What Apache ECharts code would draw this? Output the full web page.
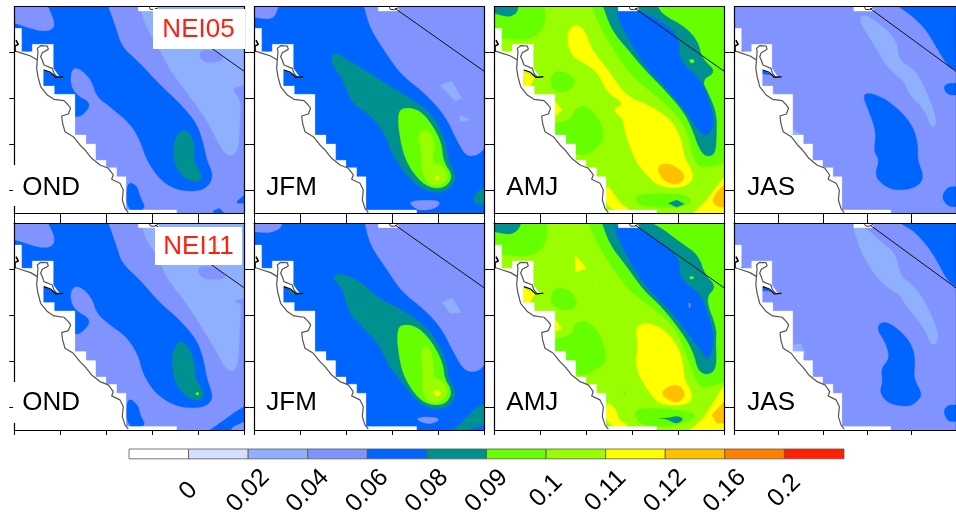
<!DOCTYPE html>
<html><head><meta charset="utf-8">
<style>html,body{margin:0;padding:0;background:#fff;overflow:hidden}#c{width:956px;height:519px}</style>
<script src="https://cdn.jsdelivr.net/npm/echarts@6/dist/echarts.min.js"></script></head>
<body><div id="c"></div>
<script>
// Colour-bar classes
const levelColors=['#ffffff','#d5e0ff','#8fb0ff','#8093ff','#0064ff','#009090','#66ff00','#99ff00','#ffff00','#ffc000','#ff8000','#ff2000'];
const levelLabels=['0','0.02','0.04','0.06','0.08','0.09','0.1','0.11','0.12','0.16','0.2'];
// Map-grid units: x 0..690, y 0..620 (north at top)
const FULL=[[0,0],[690,0],[690,620],[0,620]];
const landMask=[[0,65],[22,65],[22,135],[54,135],[54,113],[117,113],[117,185],[135,210],[87,188],[87,238],[120,238],[120,263],[182,263],[182,385],[215,385],[215,412],[244,412],[244,461],[275,461],[275,483],[307,483],[307,510],[335,510],[335,610],[487,610],[487,620],[0,620]];
const northNotch=[[372,0],[372,13],[432,13],[432,0]];
const coastMain=[[0,132],[24,140],[49,148],[69,160],[67,185],[71,210],[79,240],[99,265],[119,278],[149,282],[162,295],[169,305],[162,322],[142,328],[145,350],[152,375],[177,390],[197,415],[212,430],[232,455],[257,475],[282,485],[297,505],[292,518],[317,530],[327,550],[324,580],[332,605],[342,618]];
const coastBay=[[69,160],[71,135],[69,125],[79,117],[99,118],[102,128],[84,138],[79,150],[84,160],[89,175],[114,185],[119,200],[129,212],[147,210]];
const coastDelta=[[89,190],[109,197],[124,212],[147,210]];
const coastHead=[[5,100],[12,113],[2,118],[2,135]];
const coastNorth=[[405,0],[408,8],[420,9],[432,3]];
const stateLine=[[422,5],[690,194]];

const ond05=[[3,FULL],
[2,[[377,0],[387,40],[417,100],[447,150],[467,190],[527,270],[577,340],[607,400],[637,450],[672,440],[677,340],[680,280],[650,245],[690,235],[690,0]]],
[3,[[557,130],[597,130],[637,160],[577,170],[557,155]]],
[4,[[0,50],[47,65],[82,75],[117,70],[122,45],[102,0],[282,0],[307,70],[322,120],[377,170],[437,235],[497,290],[547,350],[567,410],[577,460],[597,505],[582,540],[547,555],[487,550],[437,520],[397,460],[377,400],[347,350],[287,300],[247,270],[232,220],[197,185],[172,185],[167,230],[185,265],[232,290],[207,325],[182,332],[0,332]]],
[5,[[492,375],[522,370],[542,420],[537,465],[567,510],[547,530],[502,510],[477,460],[479,410]]],
[4,[[337,525],[367,535],[377,570],[397,610],[337,615]]],
[4,[[667,585],[690,565],[690,590],[670,590]]],
[4,[[597,612],[615,605],[630,620],[597,620]]]];

const jfm05=[[4,FULL],
[3,[[0,0],[72,0],[62,30],[42,38],[0,32]]],
[3,[[330,0],[347,65],[402,150],[442,205],[512,260],[572,325],[612,410],[637,450],[672,445],[690,425],[690,0]]],
[2,[[557,235],[592,223],[622,275],[602,283]]],
[2,[[617,325],[647,340],[617,345]]],
[5,[[240,135],[272,155],[332,190],[392,230],[462,270],[532,320],[562,375],[577,420],[582,460],[607,510],[592,540],[562,558],[517,555],[467,520],[417,450],[392,380],[342,320],[292,290],[267,220],[227,165]]],
[6,[[429,312],[462,302],[502,315],[537,360],[562,410],[567,465],[594,505],[582,535],[547,548],[502,530],[457,470],[437,400]]],
[7,[[489,380],[522,365],[544,410],[532,465],[562,475],[585,510],[562,535],[527,538],[502,500],[502,440]]],
[8,[[543,510],[554,508],[554,518],[544,518]]],
[3,[[462,585],[512,580],[560,583],[547,605],[502,612],[482,605]]],
[5,[[690,545],[667,555],[655,580],[667,593],[690,592]]]];

const amj05=[[7,FULL],
[6,[[0,0],[150,0],[154,40],[137,80],[97,100],[32,95],[0,95]]],
[5,[[0,0],[72,0],[67,20],[42,32],[0,20]]],
[6,[[167,220],[182,192],[222,198],[247,230],[212,260],[177,250]]],
[6,[[170,350],[232,340],[242,305],[272,295],[312,330],[332,390],[312,420],[272,448],[240,440],[170,420]]],
[6,[[292,0],[322,70],[372,150],[412,210],[502,280],[562,340],[587,400],[597,460],[622,485],[667,475],[690,470],[690,0]]],
[8,[[242,50],[272,70],[292,130],[342,190],[382,250],[412,275],[472,300],[532,340],[562,400],[569,450],[592,490],[597,520],[562,545],[492,540],[452,500],[422,460],[392,380],[387,335],[352,310],[392,290],[340,260],[312,200],[272,170],[227,145],[217,80]]],
[9,[[487,477],[527,468],[577,505],[552,538],[502,520]]],
[8,[[90,195],[122,212],[107,238],[90,238]]],
[8,[[182,285],[204,310],[184,327]]],
[8,[[335,530],[357,560],[382,595],[412,610],[335,610]]],
[6,[[417,570],[462,560],[562,562],[597,580],[562,605],[437,600]]],
[5,[[522,590],[547,580],[570,592],[547,602]]],
[8,[[597,620],[632,585],[690,510],[690,620]]],
[9,[[652,580],[672,550],[690,535],[690,602],[667,600]]],
[5,[[327,0],[352,70],[402,130],[452,190],[512,250],[572,320],[597,375],[612,420],[632,450],[662,445],[667,390],[667,320],[642,260],[622,220],[667,195],[622,155],[612,105],[572,60],[507,25],[490,0]]],
[4,[[367,5],[372,40],[422,130],[462,190],[532,260],[592,340],[622,385],[642,385],[662,350],[647,290],[622,220],[552,160],[557,90],[502,45],[432,10]]],
[6,[[584,160],[597,158],[600,167],[590,170]]]];

const jas05=[[3,FULL],
[4,[[512,0],[557,30],[597,70],[622,110],[665,180],[690,190],[690,0]]],
[2,[[387,40],[402,20],[442,45],[482,75],[507,110],[512,160],[562,190],[592,240],[632,340],[617,370],[592,310],[542,260],[527,220],[477,185],[442,125]]],
[4,[[397,262],[432,260],[492,290],[552,350],[572,410],[570,460],[592,515],[562,545],[502,552],[462,535],[437,505],[452,460],[434,435],[442,380],[422,320]]],
[4,[[665,230],[650,242],[665,265],[690,265],[690,230]]],
[4,[[665,540],[644,570],[665,600],[690,600],[690,540]]],
[2,[[184,370],[212,385],[184,385]]],
[4,[[22,128],[32,140],[22,140]]],
[4,[[87,190],[122,205],[87,202]]]];

const ond11=[[3,FULL],
[2,[[382,0],[392,45],[427,95],[457,165],[517,240],[567,320],[607,385],[637,445],[672,440],[677,285],[682,240],[652,235],[690,225],[690,0]]],
[3,[[552,130],[597,130],[647,165],[577,170],[554,155]]],
[4,[[0,50],[47,65],[82,75],[117,70],[122,40],[102,0],[282,0],[307,70],[322,120],[377,170],[437,240],[497,290],[547,350],[567,405],[577,465],[597,520],[582,545],[547,555],[487,550],[427,515],[387,455],[372,395],[337,340],[287,305],[247,270],[232,220],[192,185],[169,200],[169,235],[185,263],[232,290],[207,325],[182,335],[0,335]]],
[5,[[492,353],[517,360],[542,415],[542,465],[574,513],[552,537],[507,515],[477,465],[472,395]]],
[6,[[545,508],[553,508],[553,515],[545,515]]],
[4,[[337,520],[372,545],[377,575],[397,610],[337,615]]],
[4,[[587,620],[617,600],[657,570],[690,550],[690,595],[655,610],[650,620]]]];

const jfm11=[[4,FULL],
[3,[[0,0],[84,0],[77,17],[42,30],[0,25]]],
[3,[[332,0],[347,65],[402,145],[442,205],[512,260],[562,315],[602,395],[632,445],[672,445],[690,425],[690,0]]],
[2,[[564,237],[594,225],[620,268],[587,270]]],
[5,[[232,160],[257,150],[312,170],[372,225],[452,265],[517,310],[557,370],[579,425],[582,465],[607,510],[587,550],[542,560],[492,540],[442,475],[402,425],[372,360],[322,310],[282,265],[267,200]]],
[6,[[425,312],[462,302],[502,320],[542,370],[567,425],[570,465],[594,505],[577,540],[542,547],[502,535],[462,485],[437,425]]],
[7,[[499,380],[522,365],[537,405],[537,465],[562,470],[584,505],[562,535],[527,542],[502,505],[507,450]]],
[8,[[537,505],[552,500],[560,513],[547,520]]],
[3,[[482,587],[512,580],[557,585],[547,597],[517,603]]],
[5,[[597,620],[622,600],[662,555],[690,543],[690,605],[660,612],[640,620]]],
[5,[[97,190],[122,185],[132,210],[117,215]]]];

const amj11=[[7,FULL],
[6,[[0,0],[157,0],[160,40],[142,80],[102,100],[32,95],[0,95]]],
[5,[[0,0],[80,0],[72,20],[47,35],[0,25]]],
[8,[[242,95],[277,135],[244,147]]],
[8,[[304,185],[310,187],[307,191]]],
[6,[[167,225],[182,192],[222,197],[249,230],[242,255],[212,262],[177,250]]],
[6,[[170,345],[232,340],[240,300],[272,290],[317,325],[340,410],[312,435],[272,455],[244,455],[212,405],[170,385]]],
[6,[[282,0],[317,75],[362,145],[412,210],[492,265],[547,320],[572,385],[602,465],[622,495],[662,485],[690,475],[690,0]]],
[8,[[422,310],[462,297],[512,320],[552,370],[567,425],[569,465],[592,505],[592,535],[562,547],[497,545],[462,505],[422,435],[432,365]]],
[9,[[500,510],[522,488],[557,485],[575,515],[552,540],[522,530]]],
[8,[[89,195],[122,210],[107,237],[89,237]]],
[8,[[184,290],[202,315],[184,325]]],
[8,[[335,530],[367,560],[372,590],[412,610],[335,610]]],
[6,[[417,565],[452,553],[562,560],[612,575],[572,600],[492,615],[432,600]]],
[5,[[487,585],[522,585],[547,578],[570,587],[547,603],[517,587]]],
[8,[[587,620],[627,585],[690,485],[690,620]]],
[9,[[652,575],[690,535],[690,600],[667,600]]],
[6,[[385,505],[395,505],[392,518]]],
[5,[[324,0],[347,65],[402,135],[447,200],[502,250],[562,325],[597,385],[612,445],[642,455],[667,435],[664,355],[667,315],[632,225],[667,190],[632,155],[612,95],[562,60],[502,15],[472,0]]],
[4,[[362,13],[367,35],[412,125],[462,200],[532,265],[592,345],[627,390],[642,415],[662,345],[642,275],[622,215],[554,165],[557,105],[502,60],[437,15],[372,5]]],
[6,[[587,160],[597,160],[597,167],[587,167]]],
[3,[[583,240],[588,240],[588,252],[584,252]]]];

const jas11=[[3,FULL],
[4,[[517,0],[562,25],[607,75],[632,115],[665,175],[690,190],[690,0]]],
[2,[[372,20],[372,8],[412,15],[462,60],[502,90],[517,160],[562,190],[602,250],[640,340],[617,375],[592,315],[532,245],[517,215],[462,185],[402,105]]],
[4,[[442,315],[462,293],[502,310],[552,360],[564,415],[557,465],[587,515],[562,540],[542,550],[482,543],[452,510],[462,475],[457,435],[484,405],[472,360]]],
[4,[[665,545],[650,565],[665,595],[690,595],[690,545]]],
[2,[[184,365],[207,360],[222,395],[184,385]]],
[4,[[22,128],[32,140],[22,140]]],
[4,[[87,190],[122,205],[87,202]]]];

const panels=[
 {name:'OND',layers:ond05,left:14.3,top:6.7},
 {name:'JFM',layers:jfm05,left:254.3,top:6.7},
 {name:'AMJ',layers:amj05,left:494.3,top:6.7},
 {name:'JAS',layers:jas05,left:734.3,top:6.7},
 {name:'OND',layers:ond11,left:14.3,top:223.3},
 {name:'JFM',layers:jfm11,left:254.3,top:223.3},
 {name:'AMJ',layers:amj11,left:494.3,top:223.3},
 {name:'JAS',layers:jas11,left:734.3,top:223.3}
];
const yTicks=[137,275,413,551];

// Round the contour corners; points lying on the map frame stay put.
function rounded(poly){
  if(poly.length<5) return poly;
  const onFrame=q=>q[0]<=0||q[0]>=690||q[1]<=0||q[1]>=620;
  let pts=poly;
  for(let it=0;it<2;it++){
    const out=[];
    pts.forEach((a,k)=>{
      const b=pts[(k+1)%pts.length];
      if(onFrame(a)) out.push(a);
      if(onFrame(a)&&onFrame(b)) return;
      if(!onFrame(a)) out.push([a[0]*.75+b[0]*.25,a[1]*.75+b[1]*.25]);
      if(!onFrame(b)) out.push([a[0]*.25+b[0]*.75,a[1]*.25+b[1]*.75]);
    });
    pts=out;
  }
  return pts;
}

const grid=[],xAxis=[],yAxis=[],series=[],graphic=[];
const lineSeries=(i,data,color,width)=>({type:'line',xAxisIndex:i*2,yAxisIndex:i*2,data,showSymbol:false,symbol:'none',clip:true,silent:true,z:5,lineStyle:{color,width},animation:false});
panels.forEach((p,i)=>{
  grid.push({left:p.left,top:p.top,width:230,height:206.6});
  const xBase={type:'value',gridIndex:i,min:0,max:690,interval:138,z:10,axisLine:{show:true,onZero:false,lineStyle:{color:'#000',width:1.2}},axisTick:{length:5,lineStyle:{color:'#000',width:1}},axisLabel:{show:false},splitLine:{show:false}};
  xAxis.push({...xBase,position:'bottom'});
  xAxis.push({...xBase,position:'top',axisTick:{...xBase.axisTick,show:i>=4}});
  const yBase={type:'value',gridIndex:i,min:0,max:620,inverse:true,z:10,axisLine:{show:true,onZero:false,lineStyle:{color:'#000',width:1.2}},axisTick:{length:5,customValues:yTicks,lineStyle:{color:'#000',width:1}},axisLabel:{show:false},splitLine:{show:false}};
  yAxis.push({...yBase,position:'left'});
  yAxis.push({...yBase,position:'right'});
  const layers=p.layers.map(l=>[l[0],rounded(l[1])]).concat([[0,landMask],[0,northNotch]]);
  series.push({type:'custom',xAxisIndex:i*2,yAxisIndex:i*2,clip:true,silent:true,z:2,animation:false,
    data:layers.map((l,k)=>[k]),
    renderItem:(params,api)=>{const l=layers[params.dataIndex];
      return {type:'polygon',shape:{points:l[1].map(q=>api.coord(q))},style:{fill:levelColors[l[0]],stroke:levelColors[l[0]],lineWidth:0.3}};}});
  series.push(lineSeries(i,coastMain,'#555',1.2));
  series.push(lineSeries(i,coastBay,'#555',1.2));
  series.push(lineSeries(i,coastDelta,'#000',1.1));
  series.push(lineSeries(i,coastHead,'#000',1.6));
  series.push(lineSeries(i,coastNorth,'#333',1));
  series.push(lineSeries(i,stateLine,'#111',1));
  const row=i>=4?1:0;
  const labelY=row?403:188;
  const labelX=p.left+(i%4===0?8:(i%4===3?13:12));
  if(i%4===0){graphic.push({type:'rect',silent:true,z:50,shape:{x:13,y:row?382:165,width:70,height:41},style:{fill:'#fff'}});}
  graphic.push({type:'text',silent:true,z:51,style:{x:labelX,y:labelY,text:p.name,fill:'#000',font:'26px "Liberation Sans"',textVerticalAlign:'middle',textAlign:'left'}});
});
// Emission-inventory tags
graphic.push({type:'rect',silent:true,z:50,shape:{x:153,y:9,width:92,height:40},style:{fill:'#fff'}});
graphic.push({type:'text',silent:true,z:51,style:{x:198.5,y:30,text:'NEI05',fill:'#ff2010',font:'26px "Liberation Sans"',textAlign:'center',textVerticalAlign:'middle'}});
graphic.push({type:'rect',silent:true,z:50,shape:{x:155,y:227,width:87,height:38},style:{fill:'#fff'}});
graphic.push({type:'text',silent:true,z:51,style:{x:198.5,y:247,text:'NEI11',fill:'#ff2010',font:'26px "Liberation Sans"',textAlign:'center',textVerticalAlign:'middle'}});

// Colour bar
const cb=panels.length;
grid.push({left:129,top:449,width:715,height:14});
xAxis.push({type:'value',gridIndex:cb,min:0,max:12,interval:1,axisLine:{show:false},axisTick:{show:false},splitLine:{show:false},
  axisLabel:{show:true,showMinLabel:true,showMaxLabel:true,hideOverlap:false,interval:0,rotate:45,margin:32,align:'center',verticalAlign:'middle',color:'#000',fontFamily:'Liberation Sans',fontSize:25,
    formatter:v=>(v>=1&&v<=11)?levelLabels[v-1]:''}});
yAxis.push({type:'value',gridIndex:cb,min:0,max:1,show:false});
series.push({type:'custom',xAxisIndex:cb*2,yAxisIndex:cb*2,silent:true,animation:false,data:levelColors.map((c,k)=>[k]),
  renderItem:(params,api)=>{const k=params.dataIndex;const a=api.coord([k,1]),b=api.coord([k+1,0]);
    return {type:'rect',shape:{x:a[0],y:a[1],width:b[0]-a[0],height:b[1]-a[1]},style:{fill:levelColors[k],stroke:'#555',lineWidth:0.8}};}});

const chart=echarts.init(document.getElementById('c'),null,{renderer:'canvas'});
chart.setOption({animation:false,backgroundColor:'#fff',grid,xAxis,yAxis,series,graphic});
</script></body></html>
